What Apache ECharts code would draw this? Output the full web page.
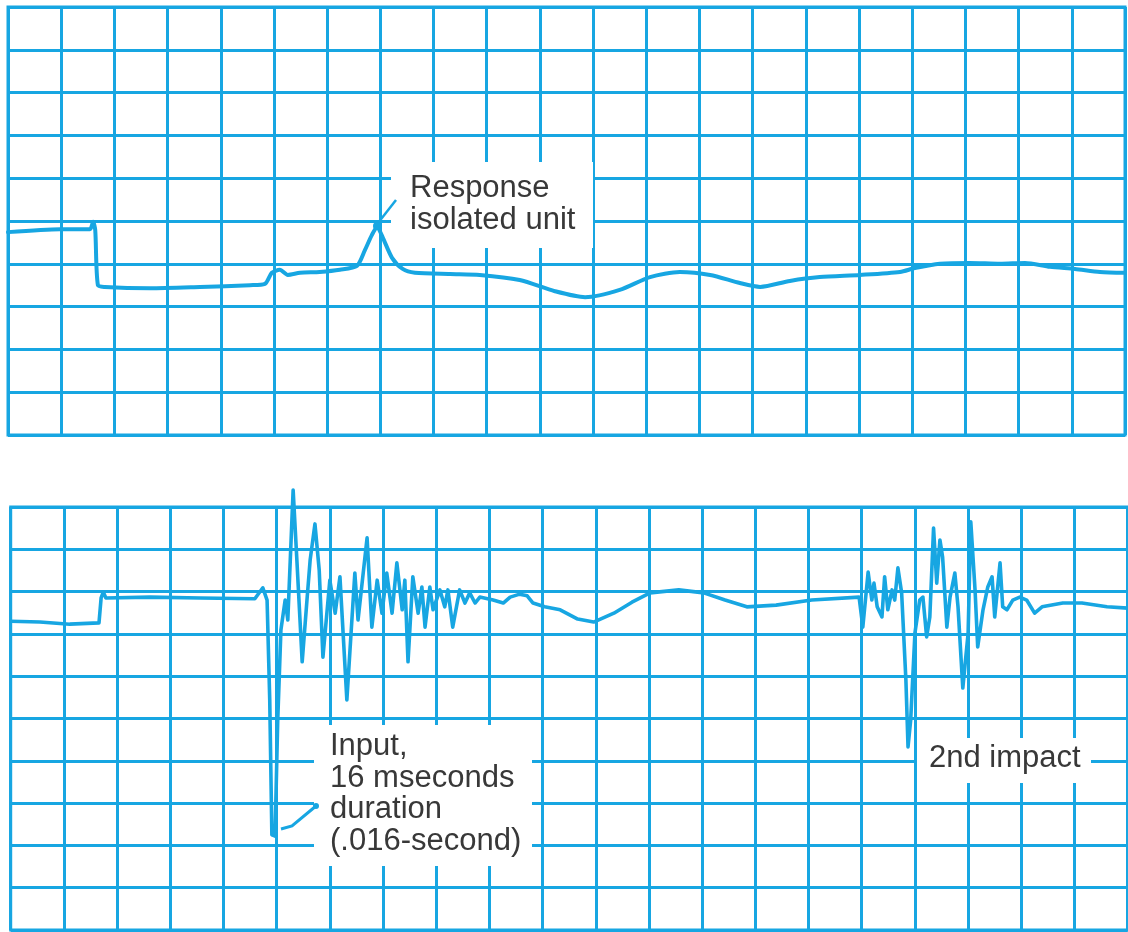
<!DOCTYPE html>
<html>
<head>
<meta charset="utf-8">
<title>Shock response trace</title>
<script src="https://cdn.jsdelivr.net/npm/echarts@6/dist/echarts.min.js"></script>
<style>
html, body { margin: 0; padding: 0; background: #fff; }
#chart { width: 1128px; height: 932px; }
</style>
</head>
<body>
<div id="chart"></div>
<script>
// recorder paper: 21 x 10 divisions in each panel
const divX = 21;
const divY = 10;

// upper trace - response of the isolated unit (divisions)
const topX = [0, 0.98, 1.54, 1.60, 1.64, 1.69, 1.82, 2.67, 3.61, 4.55, 4.83, 4.96, 5.11, 5.26, 5.49,
  5.86, 6.24, 6.56, 6.71, 6.84, 6.94, 7.05, 7.22, 7.42, 7.65, 8.31, 8.87, 9.62, 10.28, 10.85,
  11.50, 12.07, 12.63, 13.20, 13.76, 14.14, 14.70, 15.26, 16.02, 16.77, 17.05, 17.52, 18.08,
  18.65, 19.12, 19.59, 20.06, 20.53, 21.00];
const topY = [4.74, 4.81, 4.81, 4.98, 4.79, 3.50, 3.46, 3.43, 3.46, 3.50, 3.53, 3.79, 3.86, 3.74, 3.79,
  3.81, 3.86, 3.95, 4.32, 4.67, 4.86, 4.60, 4.14, 3.88, 3.79, 3.76, 3.74, 3.62, 3.36, 3.22,
  3.39, 3.69, 3.81, 3.74, 3.55, 3.46, 3.60, 3.69, 3.74, 3.81, 3.90, 4.00, 4.02,
  4.00, 4.02, 3.93, 3.88, 3.81, 3.79];

// lower trace - input shock and 2nd impact (divisions)
const bottomX = [0, 0.55, 1.11, 1.66, 1.70, 1.74, 1.79, 2.62, 3.56, 4.59, 4.74, 4.82, 4.87, 4.91, 4.97,
  5.02, 5.08, 5.16, 5.21, 5.31, 5.38, 5.48, 5.57, 5.63, 5.72, 5.80, 5.87, 6.00, 6.10, 6.19,
  6.32, 6.47, 6.53, 6.70, 6.79, 6.89, 6.98, 7.07, 7.17, 7.26, 7.36, 7.41, 7.47, 7.56, 7.66,
  7.73, 7.79, 7.88, 7.94, 8.07, 8.16, 8.22, 8.31, 8.44, 8.54, 8.63, 8.73, 8.82, 9.07, 9.26,
  9.39, 9.57, 9.71, 9.82, 10.04, 10.33, 10.66, 10.96, 11.34, 11.68, 12.02, 12.56, 13.03, 13.43,
  13.84, 14.39, 15.06, 15.95, 16.02, 16.12, 16.19, 16.23, 16.29, 16.38, 16.43, 16.49, 16.57,
  16.62, 16.68, 16.75, 16.83, 16.87, 16.92, 17.00, 17.09, 17.15, 17.22, 17.28, 17.35, 17.41,
  17.47, 17.52, 17.60, 17.66, 17.75, 17.81, 17.90, 18.00, 18.05, 18.13, 18.18, 18.28, 18.37,
  18.45, 18.50, 18.60, 18.65, 18.73, 18.84, 18.97, 19.10, 19.25, 19.39, 19.78, 20.14, 20.61, 21.00];
const bottomY = [7.30, 7.28, 7.23, 7.26, 7.85, 7.99, 7.85, 7.87, 7.85, 7.83, 8.09, 7.80, 5.44, 2.25, 2.22,
  4.96, 7.09, 7.80, 7.33, 10.40, 8.75, 6.34, 7.80, 8.75, 9.60, 8.51, 6.45, 8.27, 7.49, 8.35,
  5.44, 8.44, 7.33, 9.27, 7.16, 8.27, 7.49, 8.44, 7.49, 8.68, 7.57, 8.27, 6.34, 8.35, 7.49,
  8.11, 7.16, 8.11, 7.57, 8.04, 7.64, 8.04, 7.16, 8.04, 7.73, 7.97, 7.73, 7.87, 7.80, 7.73,
  7.87, 7.94, 7.90, 7.73, 7.64, 7.57, 7.35, 7.28, 7.49, 7.75, 7.97, 8.04, 7.97, 7.80,
  7.64, 7.68, 7.80, 7.87, 7.16, 8.46, 7.80, 8.20, 7.64, 7.40, 8.35, 7.57, 8.04,
  7.80, 8.56, 7.97, 5.91, 4.33, 4.96, 7.02, 7.80, 7.87, 6.93, 7.40, 9.50, 8.20,
  9.22, 8.82, 7.16, 7.87, 8.44, 7.64, 5.72, 7.02, 9.65, 8.04, 6.69, 7.57, 8.11,
  8.35, 7.40, 8.68, 7.64, 7.57, 7.80, 7.87, 7.80, 7.49, 7.64, 7.73, 7.73, 7.64, 7.61];

const labelResponse = 'Response\nisolated unit';
const labelInput = 'Input,\n16 mseconds\nduration\n(.016-second)';
const label2nd = '2nd impact';

const ink = '#17a6e2';
const textInk = '#383838';
const font = '31px "Liberation Sans", Arial, sans-serif';

const chart = echarts.init(document.getElementById('chart'));

function pairs(xs, ys) {
  return xs.map((x, i) => [x, ys[i]]);
}

function paperAxis(max, gridIndex) {
  return {
    type: 'value',
    gridIndex: gridIndex,
    min: 0,
    max: max,
    interval: 1,
    axisLine: { show: false },
    axisTick: { show: false },
    axisLabel: { show: false },
    splitLine: { show: true, lineStyle: { color: ink, width: 3 } }
  };
}

function trace(index, data, width, smooth) {
  return {
    type: 'line',
    xAxisIndex: index,
    yAxisIndex: index,
    data: data,
    showSymbol: false,
    smooth: smooth,
    clip: false,
    silent: true,
    lineStyle: { color: ink, width: width, join: 'round', cap: 'round' }
  };
}

function whiteBox(x, y, w, h) {
  return { type: 'rect', z: 100, shape: { x: x, y: y, width: w, height: h }, style: { fill: '#fff' } };
}

function label(x, y, text) {
  return {
    type: 'text', z: 102, x: x, y: y,
    style: { text: text, font: font, fill: textInk, lineHeight: 31.5, verticalAlign: 'top' }
  };
}

chart.setOption({
  animation: false,
  backgroundColor: '#fff',
  grid: [
    { left: 8, top: 7, width: 1117, height: 428, show: true, borderColor: ink, borderWidth: 3 },
    { left: 10.7, top: 507, width: 1117, height: 423, show: true, borderColor: ink, borderWidth: 3 }
  ],
  xAxis: [paperAxis(divX, 0), paperAxis(divX, 1)],
  yAxis: [paperAxis(divY, 0), paperAxis(divY, 1)],
  series: [
    trace(0, pairs(topX, topY), 4, 0.25),
    trace(1, pairs(bottomX, bottomY), 3.6, false)
  ],
  graphic: [
    whiteBox(391, 162, 202, 86),
    whiteBox(314, 725, 218, 141),
    whiteBox(917, 738, 174, 45),
    label(410, 173, labelResponse),
    label(330, 731, labelInput),
    label(929, 743, label2nd),
    // leader lines
    { type: 'polyline', z: 101, shape: { points: [[396, 200], [378, 223]] },
      style: { stroke: ink, lineWidth: 2.5, fill: null } },
    { type: 'circle', z: 101, shape: { cx: 377, cy: 226, r: 4 }, style: { fill: ink } },
    { type: 'polyline', z: 101, shape: { points: [[281, 829], [292, 826], [316, 806]] },
      style: { stroke: ink, lineWidth: 3, fill: null } },
    { type: 'circle', z: 101, shape: { cx: 316, cy: 806, r: 3 }, style: { fill: ink } }
  ]
});
</script>
</body>
</html>
